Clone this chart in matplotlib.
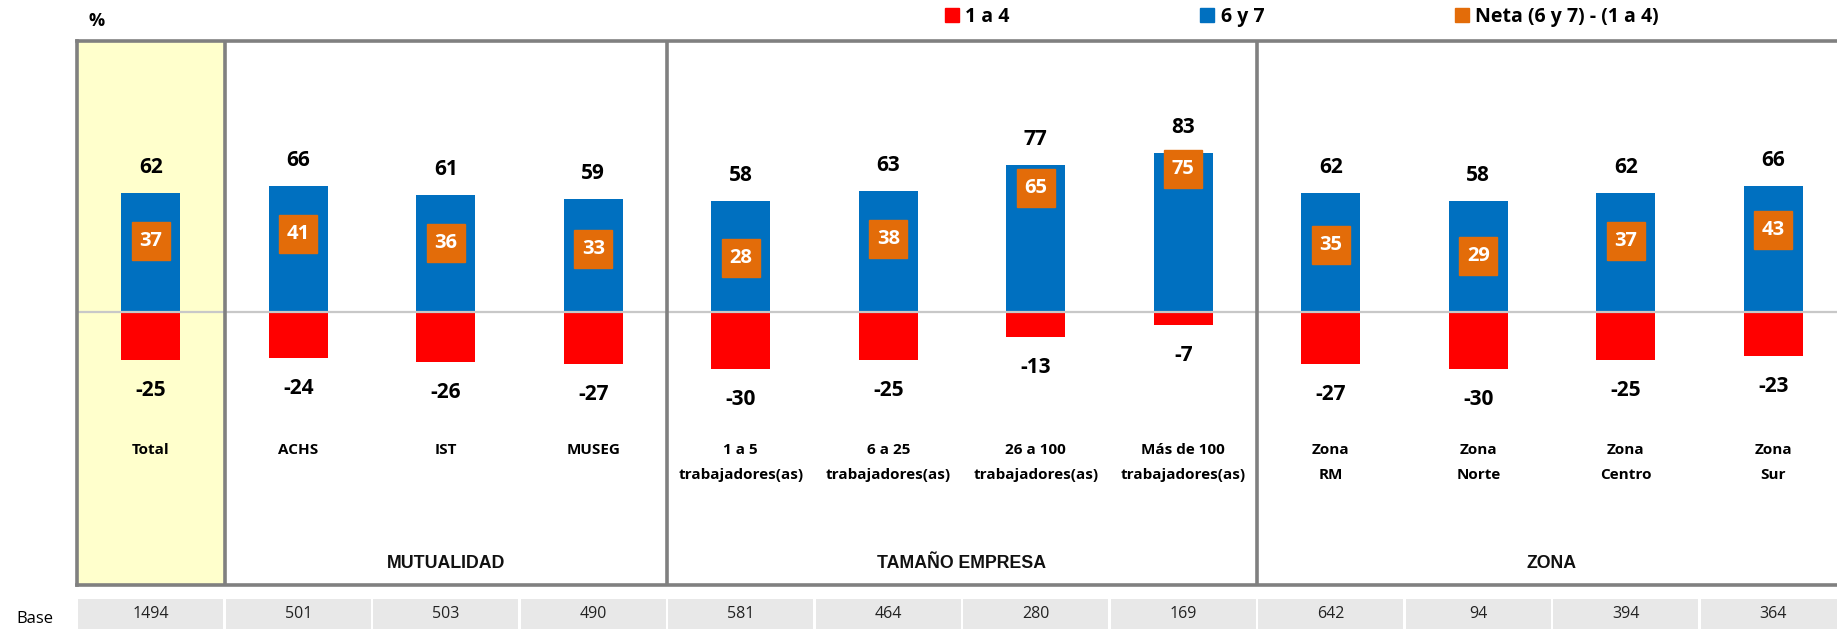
import matplotlib
matplotlib.use('Agg')
import matplotlib.pyplot as plt
from matplotlib.patches import Patch
import numpy as np

plt.rcParams['font.family'] = ['Open Sans', 'DejaVu Sans']

# datos
categorias = ['Total', 'ACHS', 'IST', 'MUSEG',
              '1 a 5\ntrabajadores(as)', '6 a 25\ntrabajadores(as)',
              '26 a 100\ntrabajadores(as)', 'Más de 100\ntrabajadores(as)',
              'Zona\nRM', 'Zona\nNorte', 'Zona\nCentro', 'Zona\nSur']
nota_6y7 = [62, 66, 61, 59, 58, 63, 77, 83, 62, 58, 62, 66]
nota_1a4 = [-25, -24, -26, -27, -30, -25, -13, -7, -27, -30, -25, -23]
neta = [37, 41, 36, 33, 28, 38, 65, 75, 35, 29, 37, 43]
base = [1494, 501, 503, 490, 581, 464, 280, 169, 642, 94, 394, 364]
grupos = ['MUTUALIDAD', 'TAMAÑO EMPRESA', 'ZONA']
grupo_desde = [1, 4, 8]
grupo_hasta = [3, 7, 11]

azul = '#0070C0'
rojo = '#FF0000'
naranjo = '#E36C09'
gris = '#808080'

W, H = 1837, 629
fig = plt.figure(figsize=(W / 100, H / 100), dpi=100)

# panel principal (sigue un poco mas alla del borde derecho)
ax = fig.add_axes([77 / W, 44 / H, 1770 / W, 544 / H])
x = np.arange(len(categorias))
ax.set_xlim(-0.5, len(categorias) - 0.5)
ax.set_ylim(-142.8, 141.7)

ax.axvspan(-0.5, 0.5, color='#FFFFCC', zorder=0)
ax.bar(x, nota_6y7, width=0.4, color=azul, zorder=2)
ax.bar(x, nota_1a4, width=0.4, color=rojo, zorder=2)
ax.axhline(0, color='#C8C8C8', lw=1.6, zorder=3)
ax.plot(x, neta, 's', ms=28, color=naranjo, ls='none', zorder=4)

for i in range(len(categorias)):
    ax.text(x[i], neta[i], str(neta[i]), color='white', fontsize=14.5,
            fontweight='bold', ha='center', va='center', zorder=5)
    ax.annotate(str(nota_6y7[i]), (x[i], nota_6y7[i]), xytext=(0, 18.5),
                textcoords='offset points', ha='center', va='center',
                fontsize=15, fontweight='bold')
    ax.annotate(str(nota_1a4[i]), (x[i], nota_1a4[i]), xytext=(0, -22),
                textcoords='offset points', ha='center', va='center',
                fontsize=15, fontweight='bold')
    # cada linea de la etiqueta por separado
    for k, linea in enumerate(categorias[i].split('\n')):
        ax.text(x[i], -74.5 - 12.9 * k, linea, ha='center', va='baseline',
                fontsize=11, fontweight='bold')

for g, a, b in zip(grupos, grupo_desde, grupo_hasta):
    ax.text((a + b) / 2, -131.8, g, ha='center', va='center',
            fontsize=12.8, family='Liberation Sans', fontweight='bold',
            color='#111111')
    ax.axvline(a - 0.5, color=gris, lw=2.6, zorder=6)

for s in ax.spines.values():
    s.set_color(gris)
    s.set_linewidth(2.6)
    s.set_zorder(6)
ax.set_xticks([])
ax.set_yticks([])

# fila de base
axb = fig.add_axes([77 / W, 0, 1770 / W, 30 / H])
axb.set_xlim(-0.5, len(categorias) - 0.5)
axb.set_ylim(0, 1)
axb.bar(x, [1] * len(base), width=0.98, bottom=0, color='#E8E8E8')
for i in range(len(base)):
    axb.text(x[i], 0.5, str(base[i]), ha='center', va='center', fontsize=11.5,
             color='#222222')
axb.axis('off')

fig.text(35 / W, 1 - 619 / H, 'Base', ha='center', va='center', fontsize=12)
fig.text(97 / W, 1 - 21 / H, '%', ha='center', va='center', fontsize=13,
         fontweight='bold')

handles = [Patch(color=rojo), Patch(color=azul), Patch(color=naranjo)]
etiquetas = ['1 a 4', '6 y 7', 'Neta (6 y 7) - (1 a 4)']
fig.legend(handles, etiquetas, loc='center left',
           bbox_to_anchor=(945 / W, 1 - 17 / H), bbox_transform=fig.transFigure,
           ncol=3, frameon=False, borderpad=0, borderaxespad=0,
           handlelength=0.7, handleheight=0.7, handletextpad=0.35,
           columnspacing=9.8, prop=dict(family='Open Sans', weight='bold', size=14))

fig.savefig('out.png', dpi=100)
